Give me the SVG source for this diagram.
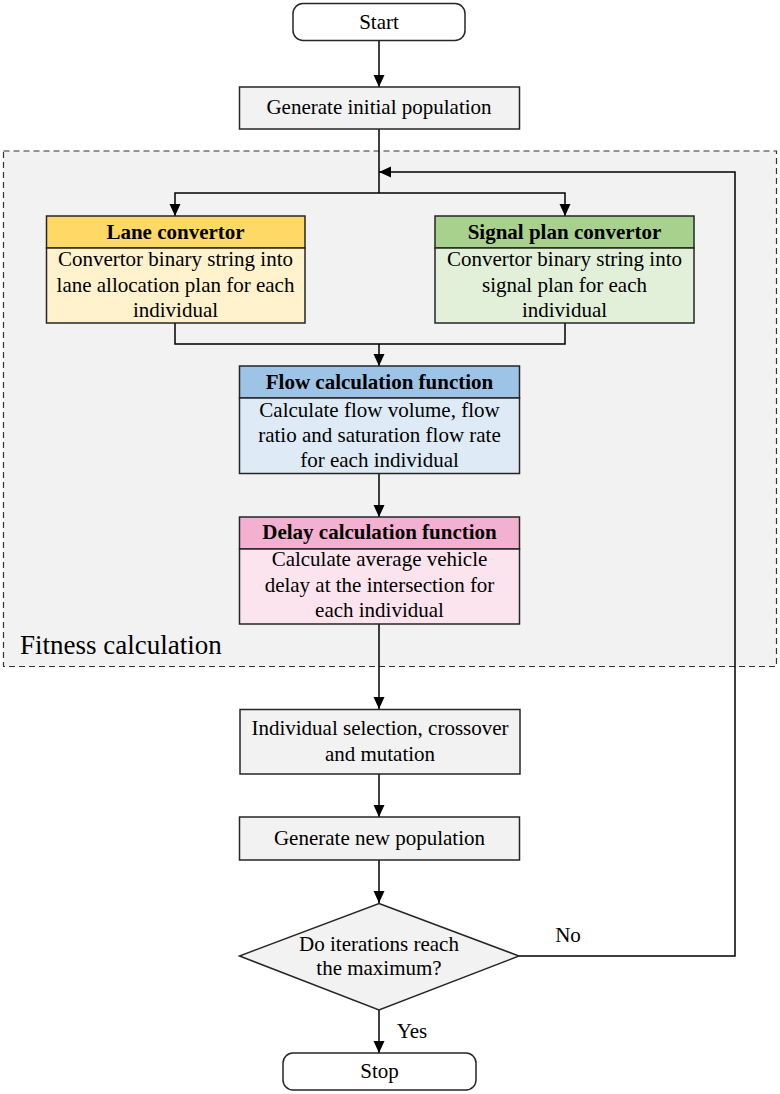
<svg xmlns="http://www.w3.org/2000/svg" width="780" height="1094" viewBox="0 0 780 1094">
<defs>
<marker id="ah" markerUnits="userSpaceOnUse" markerWidth="12" markerHeight="12" viewBox="0 0 12 12" refX="12" refY="6" orient="auto">
<path d="M0,0.5 L12,6 L0,11.5 Z" fill="#000"/>
</marker>
<style>
.box{stroke:#262626;stroke-width:1.5}
.gray{fill:#f2f2f2}
.t{font-family:"Liberation Serif","Times New Roman",serif;font-size:21px;fill:#000;text-anchor:middle}
.b{font-weight:bold}
.c{fill:none;stroke:#000;stroke-width:1.5}
</style>
</defs>
<rect width="780" height="1094" fill="#fff"/>
<g id="fitness-group">
<rect x="3.5" y="151" width="773" height="515.5" fill="#f2f2f2" stroke="#333" stroke-width="1.2" stroke-dasharray="6,4"/>
<text x="20" y="654" style="font-family:'Liberation Serif','Times New Roman',serif;font-size:27px;fill:#000">Fitness calculation</text>
</g>
<g id="connectors">
<line class="c" x1="379" y1="40" x2="379" y2="87" marker-end="url(#ah)"/>
<polyline class="c" points="379,129 379,193"/>
<polyline class="c" points="379,193 175,193 175,216" marker-end="url(#ah)"/>
<polyline class="c" points="379,193 565,193 565,216" marker-end="url(#ah)"/>
<polyline class="c" points="519,956 735,956 735,172 379,172" marker-end="url(#ah)"/>
<polyline class="c" points="175,323 175,344 565,344 565,323"/>
<line class="c" x1="379" y1="344" x2="379" y2="366" marker-end="url(#ah)"/>
<line class="c" x1="379" y1="473" x2="379" y2="517" marker-end="url(#ah)"/>
<line class="c" x1="379" y1="624" x2="379" y2="709" marker-end="url(#ah)"/>
<line class="c" x1="379" y1="774" x2="379" y2="817" marker-end="url(#ah)"/>
<line class="c" x1="379" y1="860" x2="379" y2="903" marker-end="url(#ah)"/>
<line class="c" x1="379" y1="1010" x2="379" y2="1053" marker-end="url(#ah)"/>
<text class="t" x="568" y="942">No</text>
<text class="t" x="412" y="1038">Yes</text>
</g>
<g id="start">
<rect class="box" x="293" y="3.5" width="172" height="37" rx="10" fill="#fff"/>
<text class="t" x="379" y="29">Start</text>
</g>
<g id="generate-initial">
<rect class="box gray" x="239.5" y="87" width="280" height="42"/>
<text class="t" x="379" y="114">Generate initial population</text>
</g>
<g id="lane-convertor">
<rect class="box" x="46.5" y="216" width="258.5" height="32" fill="#ffd966"/>
<rect class="box" x="46.5" y="248" width="258.5" height="75" fill="#fff2cc"/>
<text class="t b" x="175.5" y="239">Lane convertor</text>
<text class="t" x="175.5" y="266">Convertor binary string into</text>
<text class="t" x="175.5" y="291.5">lane allocation plan for each</text>
<text class="t" x="175.5" y="317">individual</text>
</g>
<g id="signal-plan-convertor">
<rect class="box" x="435" y="216" width="259" height="32" fill="#a9d18e"/>
<rect class="box" x="435" y="248" width="259" height="75" fill="#e2f0d9"/>
<text class="t b" x="564.5" y="239">Signal plan convertor</text>
<text class="t" x="564.5" y="266">Convertor binary string into</text>
<text class="t" x="564.5" y="291.5">signal plan for each</text>
<text class="t" x="564.5" y="317">individual</text>
</g>
<g id="flow-calculation">
<rect class="box" x="239.5" y="366" width="280" height="32" fill="#9dc3e6"/>
<rect class="box" x="239.5" y="398" width="280" height="75.5" fill="#deebf7"/>
<text class="t b" x="379.5" y="389">Flow calculation function</text>
<text class="t" x="379.5" y="417">Calculate flow volume, flow</text>
<text class="t" x="379.5" y="442">ratio and saturation flow rate</text>
<text class="t" x="379.5" y="467">for each individual</text>
</g>
<g id="delay-calculation">
<rect class="box" x="239.5" y="517" width="280" height="32" fill="#f4b0d0"/>
<rect class="box" x="239.5" y="549" width="280" height="75" fill="#fce4ef"/>
<text class="t b" x="379.5" y="539">Delay calculation function</text>
<text class="t" x="379.5" y="566">Calculate average vehicle</text>
<text class="t" x="379.5" y="592">delay at the intersection for</text>
<text class="t" x="379.5" y="617">each individual</text>
</g>
<g id="selection">
<rect class="box gray" x="240" y="709.5" width="280" height="64.5"/>
<text class="t" x="380" y="735">Individual selection, crossover</text>
<text class="t" x="380" y="761">and mutation</text>
</g>
<g id="generate-new">
<rect class="box gray" x="239.5" y="817" width="280" height="43"/>
<text class="t" x="379.5" y="845">Generate new population</text>
</g>
<g id="decision">
<polygon class="box gray" points="379,903.5 519,956 379,1010 239.5,956"/>
<text class="t" x="379" y="951">Do iterations reach</text>
<text class="t" x="379" y="975">the maximum?</text>
</g>
<g id="stop">
<rect class="box" x="283" y="1053" width="193" height="37" rx="10" fill="#fff"/>
<text class="t" x="379.5" y="1078">Stop</text>
</g>
</svg>
